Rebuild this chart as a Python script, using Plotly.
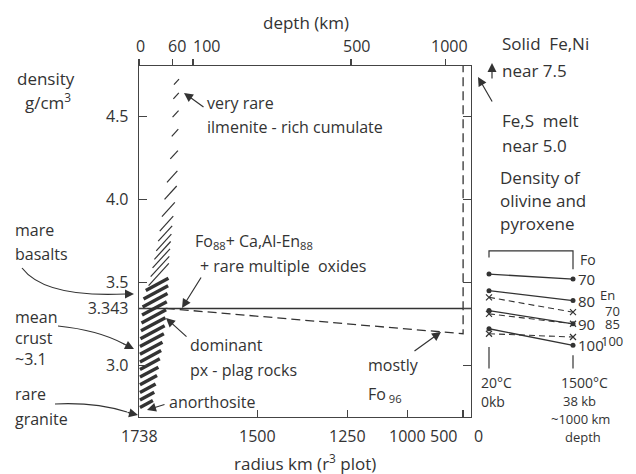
import numpy as np
import plotly.graph_objects as go

R_MOON = 1738.0
INK = "#333333"
FONT = "Open Sans"

# ---- axis ticks ----
radius_ticks = [1738, 1500, 1250, 1000, 500, 0]
radius_labels = ["1738", "1500", "1250", "1000", "500", "0"]
radius_label_shift = [0, 0, 0, 0, -20, 7]
depth_ticks = [0, 60, 100, 500, 1000]
depth_labels = ["0", "60", "100", "500", "1000"]
depth_label_shift = [1, 5, 13, 5, 4]
density_ticks = [3.0, 3.343, 3.5, 4.0, 4.5]
density_labels = ["3.0", "3.343", "3.5", "4.0", "4.5"]
density_range = [2.687, 4.807]

# ---- uniform density line ----
uniform_radius = [1738, 0]
uniform_density = [3.343, 3.343]

# ---- layered model (dashed) ----
model_radius = [1690, 500, 500]
model_density = [3.343, 3.19, 5.0]

# ---- crust band (hatched) ----
band_density = [2.735, 3.157, 3.428, 3.578, 3.789, 4.060, 4.301, 4.723]
band_left_depth = [1.7, 1.7, 7.0, 19.4, 33.9, 46.6, 57.8, 63.4]
band_right_depth = [23.0, 44.8, 52.2, 54.1, 59.7, 69.1, 71.0, 72.9]
thin_hatch_density = [4.711, 4.627, 4.518, 4.404, 4.271, 4.139, 4.042, 3.940,
                      3.855, 3.795, 3.741, 3.693, 3.645, 3.596, 3.548]
thick_hatch_density = [3.488, 3.440, 3.392, 3.343, 3.295, 3.247, 3.199, 3.151,
                       3.102, 3.054, 3.006, 2.958, 2.910, 2.861, 2.813, 2.765]

# ---- inset: olivine / pyroxene densities ----
inset_conditions = [0, 1]          # 20 C, 0 kb  ->  1500 C, 38 kb
fo_labels = ["70", "80", "90", "100"]
fo_20C = [3.55, 3.45, 3.33, 3.22]
fo_1500C = [3.52, 3.39, 3.25, 3.12]
en_labels = ["70", "85", "100"]
en_20C = [3.41, 3.31, 3.19]
en_1500C = [3.32, 3.25, 3.17]
bracket_top = 3.69
bracket_left_end = 3.65
bracket_right_end = 3.58
inset_floor = 2.98
inset_left_base = 3.11
inset_right_base = 3.06


def vol(r):
    return 1.0 - (np.asarray(r, dtype=float) / R_MOON) ** 3


# ---- page geometry ----
W, H = 636, 474
ML, MR, MT, MB = 139, 20, 66, 57
PW, PH = W - ML - MR, H - MT - MB


def X(px):
    return (px - ML) / PW


def Y(py):
    return (H - MB - py) / PH


def hatch(levels, slope):
    xs, ys = [], []
    for d in levels:
        dl = np.interp(d, band_density, band_left_depth)
        dr = np.interp(d, band_density, band_right_depth)
        ul, ur = float(vol(R_MOON - dl)), float(vol(R_MOON - dr))
        h = slope * (ur - ul)
        xs += [ul, ur, None]
        ys += [d - h, d + h, None]
    return xs, ys


fig = go.Figure()

# hatched crust band
tx, ty = hatch(thin_hatch_density, 1.1)
fig.add_trace(go.Scatter(x=tx, y=ty, mode="lines", line=dict(color=INK, width=1.2),
                         hoverinfo="skip"))
kx, ky = hatch(thick_hatch_density, 0.54)
fig.add_trace(go.Scatter(x=kx, y=ky, mode="lines", line=dict(color=INK, width=3.4),
                         hoverinfo="skip"))

# uniform density
fig.add_trace(go.Scatter(x=vol(uniform_radius), y=uniform_density, mode="lines",
                         line=dict(color=INK, width=1.5)))
# layered model
fig.add_trace(go.Scatter(x=vol(model_radius), y=model_density, mode="lines",
                         line=dict(color=INK, width=1.3, dash="9px,5px")))

# dummy trace so the depth axis is drawn
fig.add_trace(go.Scatter(x=vol(R_MOON - np.array(depth_ticks)), y=[None] * len(depth_ticks),
                         xaxis="x2", yaxis="y", mode="lines", hoverinfo="skip"))

# inset lines
for a, b in zip(fo_20C, fo_1500C):
    fig.add_trace(go.Scatter(x=inset_conditions, y=[a, b], xaxis="x3", yaxis="y",
                             mode="lines+markers", cliponaxis=False,
                             line=dict(color=INK, width=1.3),
                             marker=dict(symbol="circle", size=5, color=INK)))
for a, b in zip(en_20C, en_1500C):
    fig.add_trace(go.Scatter(x=inset_conditions, y=[a, b], xaxis="x3", yaxis="y",
                             mode="lines+markers", cliponaxis=False,
                             line=dict(color=INK, width=1.1, dash="6px,4px"),
                             marker=dict(symbol="x-thin", size=6, color=INK,
                                         line=dict(color=INK, width=1.2))))
# inset frame pieces
fig.add_trace(go.Scatter(x=[0, 0, 1, 1],
                         y=[bracket_left_end, bracket_top, bracket_top, bracket_right_end],
                         xaxis="x3", yaxis="y", mode="lines", cliponaxis=False,
                         line=dict(color=INK, width=1.2)))
fig.add_trace(go.Scatter(x=[0, 0, None, 1, 1],
                         y=[inset_left_base, inset_floor, None, inset_right_base, inset_floor],
                         xaxis="x3", yaxis="y", mode="lines", cliponaxis=False,
                         line=dict(color=INK, width=1.2)))

ann = []


def T(s, px, py, size=16, xanchor="left", yanchor="middle"):
    ann.append(dict(text=s, x=X(px), y=Y(py), xref="paper", yref="paper",
                    xanchor=xanchor, yanchor=yanchor, showarrow=False,
                    font=dict(size=size, color=INK, family=FONT)))


def A(hx, hy, ax, ay):
    ann.append(dict(text="", x=X(hx), y=Y(hy), xref="paper", yref="paper",
                    showarrow=True, ax=ax, ay=ay, arrowhead=2, arrowsize=1.5,
                    arrowwidth=1.2, arrowcolor=INK))


# left column
T("density", 15, 78, 17)
T("g/cm<sup>3</sup>", 23, 101, 17)
T("mare", 13, 230)
T("basalts", 13, 254)
T("mean", 13, 317)
T("crust", 13, 338)
T("~3.1", 13, 359)
T("rare", 13, 394)
T("granite", 13, 419)

# in-plot labels
T("very rare", 205, 103)
T("ilmenite - rich cumulate", 205, 127)
T("Fo<sub>88</sub>+ Ca,Al-En<sub>88</sub>", 193, 241)
T("+ rare multiple  oxides", 198, 266)
T("dominant", 188, 345)
T("px - plag rocks", 188, 370)
T("anorthosite", 167, 402)
T("mostly", 366, 365)
T("Fo<sub> 96</sub>", 366, 394)

# right column
T("Solid  Fe,Ni", 500, 44, 17)
T("near 7.5", 500, 70, 17)
T("Fe,S  melt", 500, 120, 17)
T("near 5.0", 500, 145, 17)
T("Density of", 498, 177, 17)
T("olivine and", 498, 200, 17)
T("pyroxene", 498, 223, 17)

# inset bottom labels
T("20°C", 479, 382, 14)
T("0kb", 479, 401, 14)
T("1500°C", 559, 382, 14)
T("38 kb", 561, 401, 13)
T("~1000 km", 549, 419, 13)
T("depth", 563, 437, 13)

# titles
T("radius km (r<sup>3</sup> plot)", 305, 462, 17, "center")
T("depth (km)", 306, 22, 17, "center")

# bottom tick labels
for r, lab, sh in zip(radius_ticks, radius_labels, radius_label_shift):
    ann.append(dict(text=lab, x=float(vol(r)), y=0, xref="x", yref="paper",
                    xanchor="center", yanchor="top", yshift=-6, xshift=sh,
                    showarrow=False, font=dict(size=16, color=INK, family=FONT)))
# top tick labels
for d, lab, sh in zip(depth_ticks, depth_labels, depth_label_shift):
    ann.append(dict(text=lab, x=float(vol(R_MOON - d)), y=1, xref="x2", yref="paper",
                    xanchor="center", yanchor="bottom", yshift=7, xshift=sh,
                    showarrow=False, font=dict(size=16, color=INK, family=FONT)))

# inset value labels
ann.append(dict(text="Fo", x=1, y=bracket_top, xref="x3", yref="y", xanchor="left",
                yanchor="top", xshift=5, yshift=3, showarrow=False,
                font=dict(size=14, color=INK, family=FONT)))
for lab, v in zip(fo_labels, fo_1500C):
    ann.append(dict(text=lab, x=1, y=v, xref="x3", yref="y", xanchor="left",
                    yanchor="middle", xshift=3, showarrow=False,
                    font=dict(size=15, color=INK, family=FONT)))
ann.append(dict(text="En", x=1, y=en_20C[0], xref="x3", yref="y", xanchor="left",
                yanchor="middle", xshift=25, yshift=2, showarrow=False,
                font=dict(size=13, color=INK, family=FONT)))
for lab, v, sh, ys in zip(en_labels, en_1500C, [30, 30, 26], [1, 0, -4]):
    ann.append(dict(text=lab, x=1, y=v, xref="x3", yref="y", xanchor="left",
                    yanchor="middle", xshift=sh, yshift=ys, showarrow=False,
                    font=dict(size=13, color=INK, family=FONT)))

# straight arrows
A(184, 93, 21, 15)
A(182, 308, 20, -32)
A(166, 318, 22, 20)
A(147, 410, 19, -6)
A(441, 332, -28, 20)
A(492, 63, 0, 17)
A(478, 77, 15, 26)
# heads of curved arrows
A(134, 294, -10, 0)
A(134, 349, -12, -6)
A(138, 415, -12, -3)


def curve(p0, c, p1):
    return dict(type="path", xref="paper", yref="paper",
                path=f"M {X(p0[0])},{Y(p0[1])} Q {X(c[0])},{Y(c[1])} {X(p1[0])},{Y(p1[1])}",
                line=dict(color=INK, width=1.2))


shapes = [curve((22, 268), (45, 298), (126, 294)),
          curve((58, 326), (98, 330), (124, 344)),
          curve((55, 404), (95, 402), (127, 412))]

axis_common = dict(showgrid=False, zeroline=False, showline=True, linecolor="#444444",
                   linewidth=1.3, tickcolor="#444444", tickwidth=1.3,
                   tickfont=dict(size=16, color=INK, family=FONT))

fig.update_layout(
    width=W, height=H, margin=dict(l=ML, r=MR, t=MT, b=MB),
    paper_bgcolor="white", plot_bgcolor="white", showlegend=False,
    font=dict(family=FONT, color=INK, size=16),
    xaxis=dict(domain=[0, X(471)], range=[0, 1], tickvals=list(vol(radius_ticks)),
               showticklabels=False, ticks="inside", ticklen=7, anchor="y",
               **axis_common),
    xaxis2=dict(overlaying="x", side="top", anchor="y", range=[0, 1],
                tickvals=list(vol(R_MOON - np.array(depth_ticks))),
                showticklabels=False, ticks="outside", ticklen=6, **axis_common),
    xaxis3=dict(domain=[X(484.8), X(577.2)], range=[-0.05, 1.05], visible=False,
                anchor="y"),
    yaxis=dict(range=density_range, tickvals=density_ticks, ticktext=density_labels,
               ticks="inside", ticklen=8, mirror="ticks", anchor="x",
               ticklabelstandoff=6, **axis_common),
    annotations=ann, shapes=shapes,
)

fig.write_html("out.html",
               config={"staticPlot": True, "displayModeBar": False},
               post_script="document.body.style.margin='0px';"
                           "document.body.style.overflow='hidden';")
